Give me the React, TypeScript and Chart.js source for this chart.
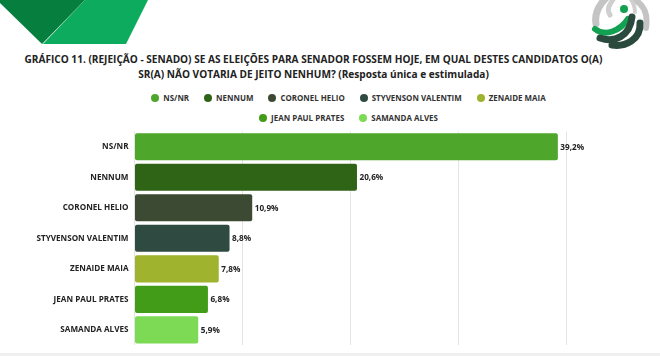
import React, { useEffect, useRef } from "react";
import { Chart, registerables } from "chart.js";

Chart.register(...registerables);

const categories = ["NS/NR", "NENNUM", "CORONEL HELIO", "STYVENSON VALENTIM", "ZENAIDE MAIA", "JEAN PAUL PRATES", "SAMANDA ALVES"];
const values = [39.2, 20.6, 10.9, 8.8, 7.8, 6.8, 5.9];
const colors = ["#4ea72a", "#2f6417", "#3d4a33", "#2f4a40", "#9fb32f", "#429c18", "#7dda55"];
const titleLines = [
  "GRÁFICO 11. (REJEIÇÃO - SENADO) SE AS ELEIÇÕES PARA SENADOR FOSSEM HOJE, EM QUAL DESTES CANDIDATOS O(A)",
  "SR(A) NÃO VOTARIA DE JEITO NENHUM? (Resposta única e estimulada)",
];
const legendRows = [[0, 1, 2, 3, 4], [5, 6]];
const FONT = '"Open Sans", sans-serif';

const valueLabels = {
  id: "valueLabels",
  afterDatasetsDraw(chart: any) {
    const { ctx } = chart;
    const meta = chart.getDatasetMeta(0);
    ctx.save();
    ctx.font = `700 8.2px ${FONT}`;
    ctx.fillStyle = "#222";
    ctx.textAlign = "left";
    ctx.textBaseline = "middle";
    meta.data.forEach((bar: any, i: number) => {
      ctx.fillText(values[i].toFixed(1).replace(".", ",") + "%", bar.x + 2.5, bar.y + 0.5);
    });
    ctx.restore();
  },
};

export default function App() {
  const ref = useRef<HTMLCanvasElement>(null);
  useEffect(() => {
    document.body.style.margin = "0";
    const chart = new Chart(ref.current!, {
      type: "bar",
      data: {
        labels: categories,
        datasets: [{
          data: values,
          backgroundColor: colors,
          borderRadius: 2,
          borderSkipped: false,
          categoryPercentage: 0.889,
          barPercentage: 1,
        }],
      },
      options: {
        indexAxis: "y",
        responsive: false,
        animation: false,
        layout: { padding: { left: 0, right: 93.5, top: 131.5, bottom: 5 } },
        plugins: { legend: { display: false }, title: { display: false }, tooltip: { enabled: false } },
        scales: {
          x: {
            min: 0,
            max: 40,
            ticks: { display: false, stepSize: 10 },
            grid: { color: "#e4e4e4", lineWidth: 1, drawTicks: false },
            border: { display: false },
          },
          y: {
            afterFit: (s: any) => { s.width = 134.5; },
            ticks: { color: "#222", font: { family: FONT, size: 8.15, weight: 700 }, padding: 6 },
            grid: { display: false, drawTicks: false },
            border: { display: false },
          },
        },
      },
      plugins: [valueLabels],
    });
    return () => chart.destroy();
  }, []);

  return (
    <div style={{ position: "relative", width: 660, height: 356, overflow: "hidden", background: "#fff", fontFamily: FONT }}>
      <svg width={660} height={60} style={{ position: "absolute", left: 0, top: 0 }}>
        <polygon points="0,0 85,0 42,44 0,3" fill="#067f3e" />
        <polygon points="85,0 148,0 126,44 43,44" fill="#0cab5e" />
        <g fill="none" strokeLinecap="round">
          <path d="M596,24 C594,12 600,4 606,-2" stroke="#c4c4c4" strokeWidth={7} />
          <path d="M610,15 C606,9 610,4 614,-2" stroke="#cfcfcf" strokeWidth={5} />
          <path d="M632,-2 C645,5 648,14 646,28" stroke="#c4c4c4" strokeWidth={6} />
          <path d="M630,-2 C633,2 635,6 635,12" stroke="#cfcfcf" strokeWidth={4} />
          <path d="M595,29 C605,37 620,31 628,19" stroke="#12a150" strokeWidth={6} />
          <path d="M600,38 C615,43 630,36 632,17" stroke="#2b4a3e" strokeWidth={7} />
          <path d="M612,45 C625,47 641,40 640,23" stroke="#2b4a3e" strokeWidth={7} />
        </g>
        <circle cx={624} cy={9} r={4} fill="#12a150" />
      </svg>
      <div style={{ position: "absolute", left: 0, top: 52, width: 627, textAlign: "center", fontSize: 10.08, fontWeight: 700, lineHeight: "14.5px", color: "#222", whiteSpace: "nowrap" }}>
        {titleLines.map((t) => <div key={t}>{t}</div>)}
      </div>
      {legendRows.map((row, r) => (
        <div key={r} style={{ position: "absolute", left: 0, top: 91 + r * 20.3, width: 697, display: "flex", justifyContent: "center", gap: 15, fontSize: 7.95, fontWeight: 700, lineHeight: "14px", color: "#333" }}>
          {row.map((i) => (
            <span key={i} style={{ display: "flex", alignItems: "center", gap: 4 }}>
              <span style={{ width: 8, height: 8, borderRadius: 4, background: colors[i] }} />
              {categories[i]}
            </span>
          ))}
        </div>
      ))}
      <canvas ref={ref} width={660} height={356} style={{ position: "absolute", left: 0, top: 0 }} />
      <div style={{ position: "absolute", left: 0, top: 353, width: 660, height: 3, background: "#efefef" }} />
    </div>
  );
}
